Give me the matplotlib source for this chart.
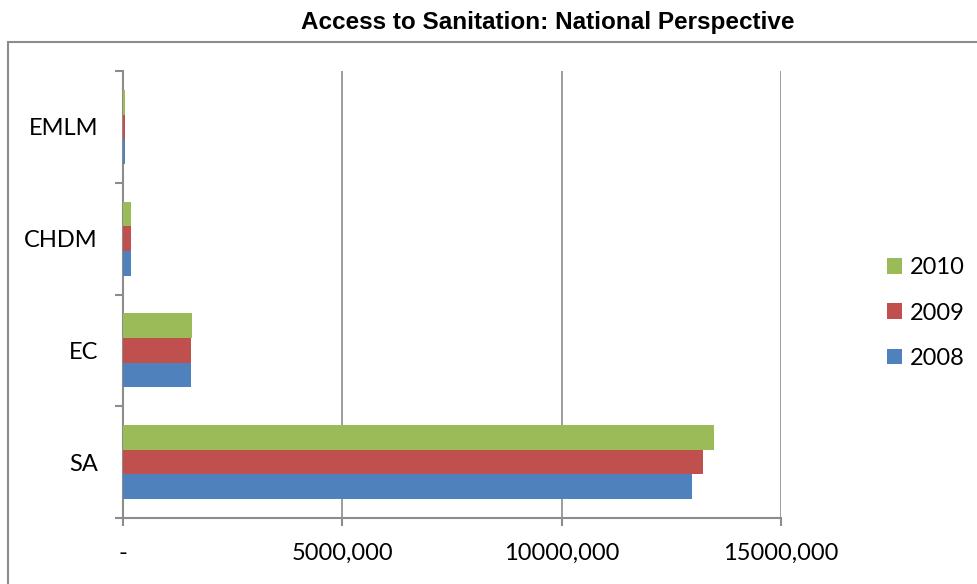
import matplotlib.pyplot as plt
from matplotlib.patches import Rectangle
from matplotlib.ticker import FixedLocator, FixedFormatter
import numpy as np

categories = ['SA', 'EC', 'CHDM', 'EMLM']
years = ['2008', '2009', '2010']
values_2008 = [12970000, 1550000, 190000, 40000]
values_2009 = [13230000, 1560000, 190000, 40000]
values_2010 = [13480000, 1580000, 190000, 40000]
x_ticks = [0, 5000000, 10000000, 15000000]
x_tick_labels = ['-', '5000,000', '10000,000', '15000,000']

colors = ['#4F81BD', '#C0504D', '#9BBB59']
plt.rcParams['font.family'] = ['Lato', 'DejaVu Sans']

fig = plt.figure(figsize=(9.78, 5.84), dpi=100)
ax = fig.add_axes([123 / 978, 1 - 518 / 584, (781 - 123) / 978, (518 - 71) / 584])

# outer chart border
fig.patches.append(Rectangle((8 / 978, -0.05), 1.1, 1 - 42 / 584 + 0.05,
                             transform=fig.transFigure, fill=False,
                             edgecolor='#8c8c8c', linewidth=1.5))

y = np.arange(len(categories))
h = 0.22
series = [values_2008, values_2009, values_2010]
for i, (vals, c, yr) in enumerate(zip(series, colors, years)):
    ax.barh(y + (i - 1) * h, vals, height=h, color=c, label=yr, zorder=3)

ax.set_xlim(0, 15000000)
ax.set_ylim(-0.5, len(categories) - 0.5)
ax.xaxis.set_major_locator(FixedLocator(x_ticks))
ax.xaxis.set_major_formatter(FixedFormatter(x_tick_labels))
ax.set_yticks(y)
ax.set_yticklabels(categories)
ax.set_yticks(np.arange(-0.5, len(categories), 1), minor=True)
ax.tick_params(axis='y', which='major', length=0, pad=18, labelsize=17)
ax.tick_params(axis='y', which='minor', length=6, width=1.5, color='#8c8c8c')
ax.tick_params(axis='x', length=6, width=1.5, color='#8c8c8c', labelsize=17, pad=12)
ax.grid(axis='x', color='#8c8c8c', linewidth=1.2, zorder=0)

for s in ['top', 'right']:
    ax.spines[s].set_visible(False)
for s in ['left', 'bottom']:
    ax.spines[s].set_color('#8c8c8c')
    ax.spines[s].set_linewidth(1.5)

handles, labels = ax.get_legend_handles_labels()
fig.legend(handles[::-1], labels[::-1], loc='center left',
           bbox_to_anchor=(887 / 978, 1 - 313 / 584), frameon=False,
           fontsize=17, handlelength=0.64, handleheight=0.64,
           handletextpad=0.34, labelspacing=1.03, borderpad=0,
           borderaxespad=0)

fig.text(548 / 978, 1 - 22 / 584, 'Access to Sanitation: National Perspective',
         ha='center', va='center', fontsize=17.5, fontweight='bold',
         family=['Liberation Sans Narrow', 'Liberation Sans', 'DejaVu Sans'])

fig.savefig('out.png', dpi=100)
